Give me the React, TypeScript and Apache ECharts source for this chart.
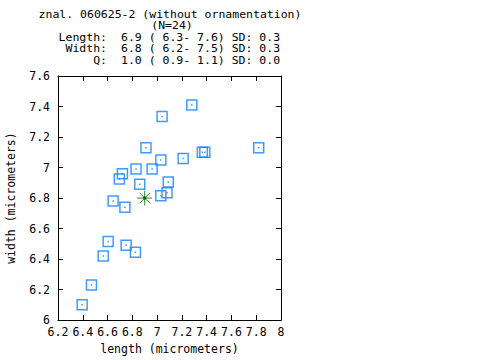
import React, { useEffect, useRef } from "react";
import * as echarts from "echarts";

const lengths = [7.28, 7.04, 6.91, 7.365, 7.385, 7.82, 7.03, 7.21, 6.83, 6.96, 6.72, 6.695, 6.86, 7.09, 7.08, 7.03, 6.645, 6.74, 6.605, 6.75, 6.565, 6.825, 6.47, 6.395];
const widths = [7.41, 7.335, 7.13, 7.1, 7.1, 7.13, 7.05, 7.06, 6.99, 6.99, 6.96, 6.925, 6.89, 6.905, 6.835, 6.815, 6.78, 6.74, 6.515, 6.49, 6.42, 6.445, 6.23, 6.1];
const meanPoint = [6.9, 6.8];
const titleLine1 = "znal. 060625-2 (without ornamentation)";
const titleLine2 = "(N=24)";
const statLabels = ["Length:", "Width:", "Q:"];
const statValues = ["6.9 ( 6.3- 7.6) SD: 0.3", "6.8 ( 6.2- 7.5) SD: 0.3", "1.0 ( 0.9- 1.1) SD: 0.0"];
const xTitle = "length (micrometers)";
const yTitle = "width (micrometers)";

const FONT = "DejaVu Sans Mono";
const FS = 11.5;
const TFS = 10;
const TSX = 1.15;
const BLUE = "#1282ff";
const GREEN = "#006400";

const fmt = (v: number) => String(Number(v.toFixed(1)));

export default function App() {
  const ref = useRef<HTMLDivElement>(null);
  useEffect(() => {
    if (!ref.current) return;
    const chart = echarts.init(ref.current, undefined, { renderer: "svg" });
    const pts = lengths.map((x, i) => [x, widths[i]]);
    const textStyle = { fontFamily: FONT, fontSize: TFS, fill: "#000" };
    const axisCommon = {
      axisLine: { show: true, lineStyle: { color: "#000", width: 1 } },
      axisTick: { show: true, inside: true, length: 5, lineStyle: { color: "#000" } },
      splitLine: { show: false },
    };
    const rows = [37.5, 49.2, 60.9];
    chart.setOption({
      animation: false,
      backgroundColor: "#fff",
      grid: { left: 58, right: 199, top: 76, bottom: 34 },
      xAxis: [
        {
          type: "value", min: 6.2, max: 8, interval: 0.2, position: "bottom",
          ...axisCommon,
          axisLabel: { formatter: fmt, color: "#000", fontFamily: FONT, fontSize: FS, margin: 6, showMinLabel: true, showMaxLabel: true },
          name: xTitle, nameLocation: "middle", nameGap: 21,
          nameTextStyle: { color: "#000", fontFamily: FONT, fontSize: FS },
        },
        {
          type: "value", min: 6.2, max: 8, interval: 0.2, position: "top",
          ...axisCommon, axisLabel: { show: false },
        },
      ],
      yAxis: [
        {
          type: "value", min: 6, max: 7.6, interval: 0.2, position: "left",
          ...axisCommon,
          axisLabel: { formatter: fmt, color: "#000", fontFamily: FONT, fontSize: FS, margin: 8 },
          name: yTitle, nameLocation: "middle", nameGap: 41,
          nameTextStyle: { color: "#000", fontFamily: FONT, fontSize: FS },
        },
        {
          type: "value", min: 6, max: 7.6, interval: 0.2, position: "right",
          ...axisCommon, axisLabel: { show: false },
        },
      ],
      series: [
        {
          type: "scatter", data: pts, symbol: "rect", symbolSize: 10,
          itemStyle: { color: "transparent", borderColor: BLUE, borderWidth: 1.5 },
          silent: true,
        },
        {
          type: "scatter", data: pts, symbol: "rect", symbolSize: 1.5,
          itemStyle: { color: BLUE }, silent: true,
        },
        {
          type: "scatter", data: [meanPoint],
          symbol: "path://M0 7.5 L15 7.5 M7.5 0 L7.5 15 M2.2 2.2 L12.8 12.8 M12.8 2.2 L2.2 12.8",
          symbolSize: 15,
          itemStyle: { color: "none", borderColor: GREEN, borderWidth: 1 }, silent: true,
        },
        {
          type: "scatter", data: [meanPoint], symbol: "circle", symbolSize: 3.5,
          itemStyle: { color: GREEN }, silent: true,
        },
      ],
      graphic: [
        { type: "text", x: 170, y: 14.5, scaleX: TSX, style: { ...textStyle, text: titleLine1, textAlign: "center", textVerticalAlign: "middle" } },
        { type: "text", x: 172, y: 26, scaleX: TSX, style: { ...textStyle, text: titleLine2, textAlign: "center", textVerticalAlign: "middle" } },
        ...statLabels.map((s, i) => ({
          type: "text", x: 107, y: rows[i], scaleX: TSX,
          style: { ...textStyle, text: s, textAlign: "right", textVerticalAlign: "middle" },
        })),
        ...statValues.map((s, i) => ({
          type: "text", x: 121, y: rows[i], scaleX: TSX,
          style: { ...textStyle, text: s, textAlign: "left", textVerticalAlign: "middle" },
        })),
      ],
    });
    return () => chart.dispose();
  }, []);
  return <div ref={ref} style={{ width: 480, height: 360, position: "absolute", left: 0, top: 0 }} />;
}
